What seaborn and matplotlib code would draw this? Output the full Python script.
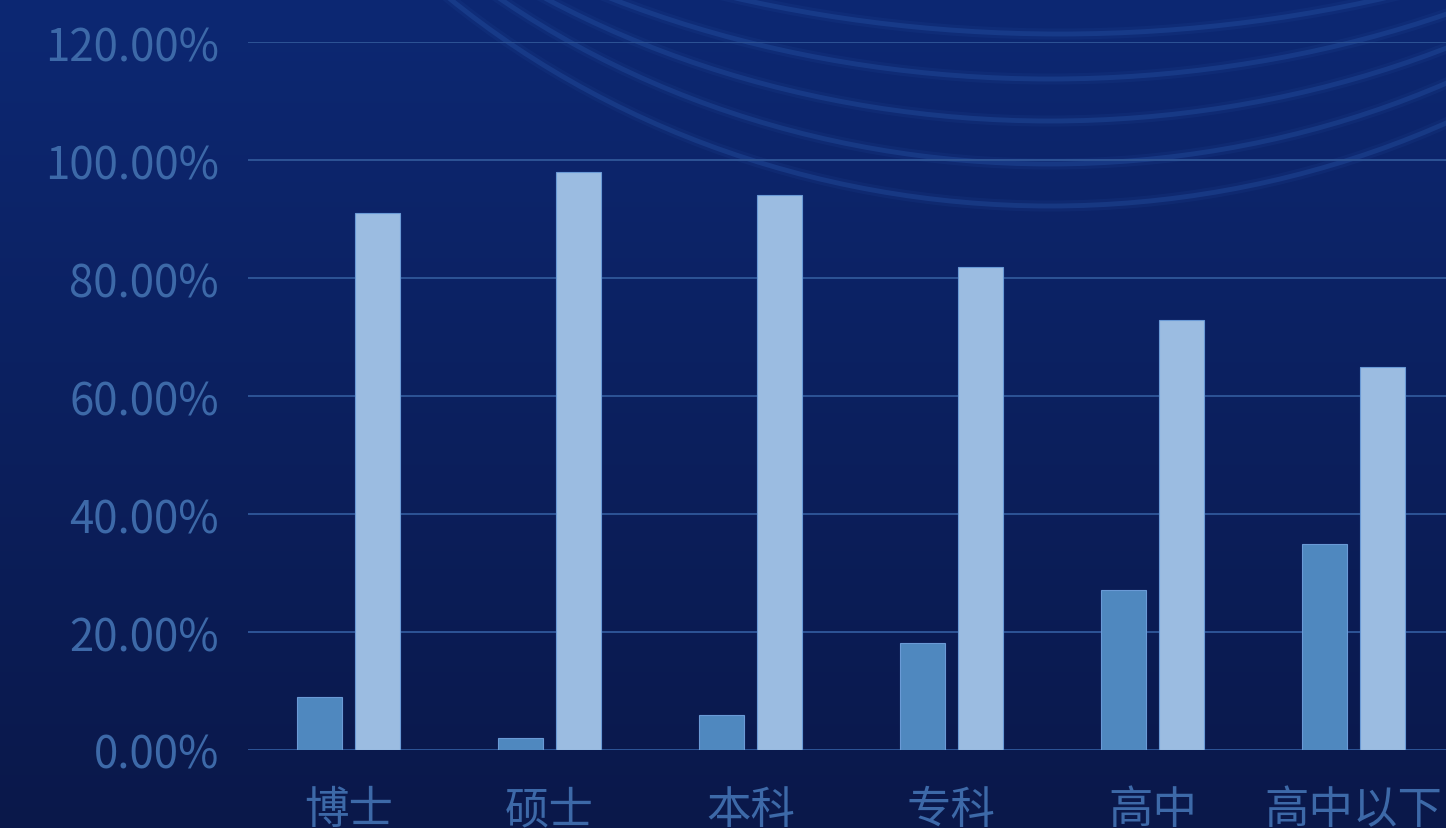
import numpy as np
import pandas as pd
import matplotlib
matplotlib.use("Agg")
import matplotlib.pyplot as plt
from matplotlib.patches import Arc
from matplotlib.ticker import PercentFormatter, MultipleLocator
import seaborn as sns

# Education levels and the two shares for each level (percent)
levels = ["博士", "硕士", "本科", "专科", "高中", "高中以下"]
share_low = [9.0, 2.0, 5.9, 18.2, 27.2, 35.0]
share_high = [91.0, 98.0, 94.1, 81.8, 72.8, 65.0]
series_names = ["A", "B"]

df = pd.DataFrame({
    "level": levels * 2,
    "share": share_low + share_high,
    "series": [series_names[0]] * len(levels) + [series_names[1]] * len(levels),
})

sns.set_theme(style="white")
plt.rcParams["font.family"] = ["Noto Sans CJK SC", "DejaVu Sans"]

W, H = 1446, 829
fig = plt.figure(figsize=(W / 100, H / 100), dpi=100)

# Background: vertical navy gradient with faint concentric arcs
bg = fig.add_axes([0, 0, 1, 1], zorder=-10)
top = np.array([13, 40, 115]) / 255
bottom = np.array([10, 24, 74]) / 255
t = np.linspace(0, 1, 400)[:, None, None]
grad = top * (1 - t) + bottom * t
grad = np.repeat(grad, 4, axis=1)
bg.imshow(grad, extent=[0, W, H, 0], aspect="auto", interpolation="bilinear")
arc_specs = [  # (center x, half width, half height) of ellipses centred above the top edge
    (1060, 978, 635),
    (1050, 930, 680),
    (1050, 905, 722),
    (1050, 886, 765),
    (1050, 897, 807),
]
for cx, a, b in arc_specs:
    for lw, al in [(8, 0.10), (3.5, 0.30)]:
        bg.add_patch(Arc((cx, -600), 2 * a, 2 * b, theta1=0, theta2=180,
                         color="#2a5cb0", lw=lw, alpha=al))
bg.set_xlim(0, W)
bg.set_ylim(H, 0)
bg.axis("off")

# Main chart
ax = fig.add_axes([248 / W, 78 / H, 1206 / W, 708 / H])
ax.set_facecolor("none")
sns.barplot(data=df, x="level", y="share", hue="series",
            palette=["#4f88bf", "#9bbce1"], width=0.577, gap=0.24,
            saturation=1, ax=ax, legend=False, zorder=3,
            edgecolor="#6a9ad6", linewidth=0.8)

ax.set_xlim(-0.5, 5.5)
ax.set_ylim(0, 120)
ax.yaxis.set_major_locator(MultipleLocator(20))
ax.yaxis.set_major_formatter(PercentFormatter(decimals=2))
ax.grid(axis="y", color="#2d5496", lw=1.4, zorder=0)
ax.grid(axis="x", visible=False)
for s in ax.spines.values():
    s.set_visible(False)
ax.set_xlabel("")
ax.set_ylabel("")
ax.tick_params(axis="both", length=0, colors="#3d69a8")
ax.tick_params(axis="y", labelsize=31.5, pad=21)
ax.tick_params(axis="x", labelsize=32, pad=26)

fig.savefig("out.png", dpi=100)
